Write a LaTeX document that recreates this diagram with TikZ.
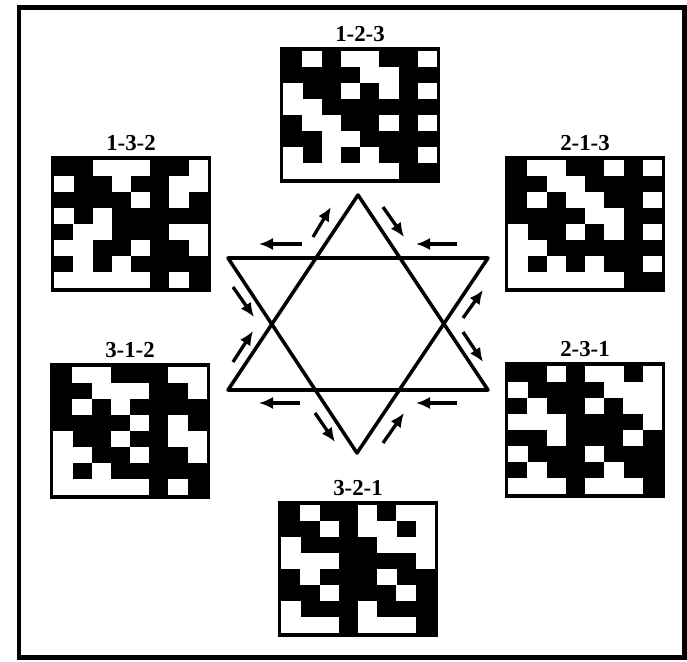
\documentclass[tikz,border=0pt]{standalone}
\usepackage{fontspec}
\setmainfont{Liberation Serif}
\usetikzlibrary{arrows.meta, positioning}

% white cells of one 8x8 tile, row by row, on the black node #1
\newcommand{\whitecells}[2]{%
  \foreach \cols [count=\r from 0] in {#2} {
    \foreach \c in \cols {
      \fill[white, shift={(#1.north west)}] (3.2+\c*19.2, 4+\r*16) rectangle ++(19.4, 16.2);
    }
  }%
}

\begin{document}
\begin{tikzpicture}[
    x=0.02cm, y=-0.02cm,
    tile/.style={rectangle, fill=black, minimum width=3.2cm, minimum height=2.72cm, inner sep=0pt, outer sep=0pt},
    tag/.style={font=\fontsize{13}{15}\selectfont\bfseries, inner sep=0pt},
    star/.style={line width=2pt, line join=round},
    flow/.style={-{Latex[length=8pt,width=7pt]}, line width=1.9pt}
]
\useasboundingbox (0,0) rectangle (687,662);
\draw[line width=0.1cm] (19,8) rectangle (684,657);

% tiles
\node[tile] (g123) at (360,115) {};
\node[tile] (g132) at (131,224) {};
\node[tile] (g213) at (585,224) {};
\node[tile] (g312) at (130,431) {};
\node[tile] (g231) at (585,430) {};
\node[tile] (g321) at (358,569) {};

\whitecells{g123}{{1,3,4,7},{4,5},{0,3,5,7},{0,1},{1,2,5,7},{2,3},{0,2,4,7},{0,1,2,3,4,5}}
\whitecells{g213}{{1,2,5,7},{2,3},{1,3,4,7},{4,5},{0,3,5,7},{0,1},{0,2,4,7},{0,1,2,3,4,5}}
\whitecells{g132}{{2,3,4,7},{0,3,6,7},{4,6},{0,2},{1,2,6,7},{0,1,4,7},{1,3},{0,1,2,3,4,6}}
\whitecells{g312}{{1,2,6,7},{2,3,4,7},{1,3},{4,6},{0,3,6,7},{0,1,4,7},{0,2},{0,1,2,3,4,6}}
\whitecells{g231}{{2,4,5,7},{0,5,6,7},{1,4,6,7},{0,1,2,7},{2,6},{0,4},{1,5},{0,1,2,4,5,6}}
\whitecells{g321}{{1,4,6,7},{2,4,5,7},{0,5,6,7},{0,1,2,7},{1,5},{2,6},{0,4},{0,1,2,4,5,6}}

\node[tag, above=1mm of g123] (t123) {1-2-3};
\node[tag, above=1mm of g132] (t132) {1-3-2};
\node[tag, above=1mm of g213] (t213) {2-1-3};
\node[tag, above=1mm of g312] (t312) {3-1-2};
\node[tag, above=1mm of g231] (t231) {2-3-1};
\node[tag, above=1mm of g321] (t321) {3-2-1};

% star
\coordinate (up) at (358,195);
\coordinate (bl) at (228,390);
\coordinate (br) at (488,390);
\coordinate (tl) at (228,258);
\coordinate (tr) at (488,258);
\coordinate (dn) at (357,453);
\draw[star] (up) -- (bl) -- (br) -- cycle;
\draw[star] (tl) -- (tr) -- (dn) -- cycle;

% flow arrows round the star
\foreach \xa/\ya/\xb/\yb in {313/237/331/207, 383/207/404/237, 302/244/259/244, 457/244/416/244,
    233/287/254/317, 233/362/253/331, 463/318/483/290, 463/332/483/362,
    300/403/259/403, 457/403/416/403, 315/413/335/442, 383/443/404/413}
  \draw[flow] (\xa,\ya) -- (\xb,\yb);
\end{tikzpicture}
\end{document}
